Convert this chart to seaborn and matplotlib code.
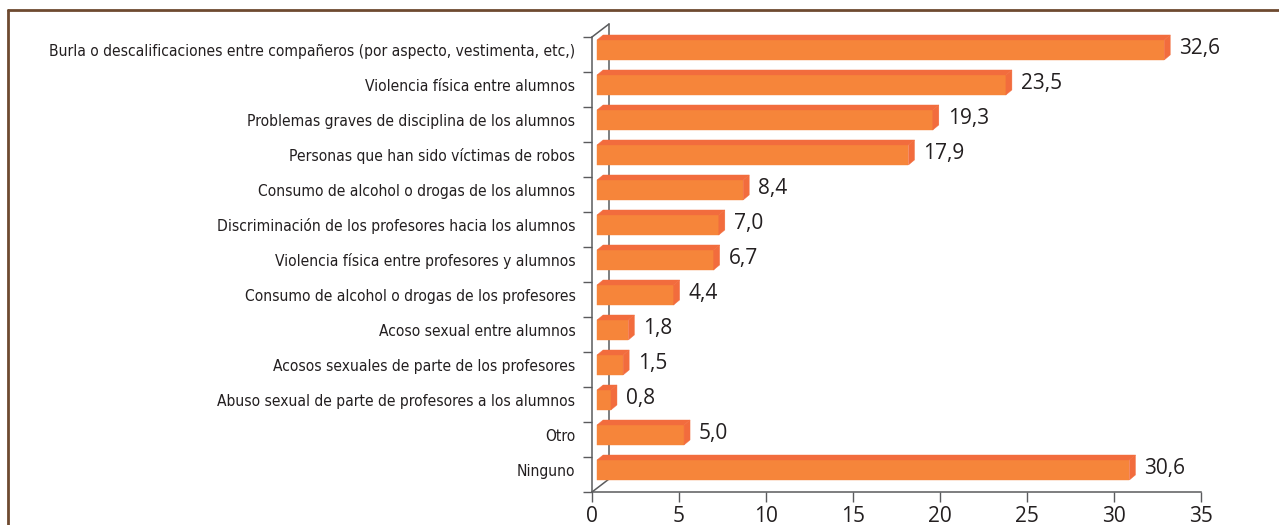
import numpy as np
import pandas as pd
import seaborn as sns
import matplotlib.pyplot as plt
from matplotlib.patches import Polygon
from matplotlib.lines import Line2D
from matplotlib.transforms import ScaledTranslation, IdentityTransform

categorias = [
    "Burla o descalificaciones entre compañeros (por aspecto, vestimenta, etc,)",
    "Violencia física entre alumnos",
    "Problemas graves de disciplina de los alumnos",
    "Personas que han sido víctimas de robos",
    "Consumo de alcohol o drogas de los alumnos",
    "Discriminación de los profesores hacia los alumnos",
    "Violencia física entre profesores y alumnos",
    "Consumo de alcohol o drogas de los profesores",
    "Acoso sexual entre alumnos",
    "Acosos sexuales de parte de los profesores",
    "Abuso sexual de parte de profesores a los alumnos",
    "Otro",
    "Ninguno",
]
valores = [32.6, 23.5, 19.3, 17.9, 8.4, 7.0, 6.7, 4.4, 1.8, 1.5, 0.8, 5.0, 30.6]
ticks_x = [0, 5, 10, 15, 20, 25, 30, 35]

naranja = '#F6853A'
naranja_osc = '#F26C3D'
gris = '#5A5B5D'
texto = '#231F20'
marco = '#6E4A30'

# efecto "3D" (pixeles)
DX_BARRA, DY_BARRA = 5, 4.5
DX_PROF, DY_PROF = 6, 5
DX_FONDO, DY_FONDO = 17, 13

sns.set_style('white')
plt.rcParams['font.family'] = ['Open Sans', 'DejaVu Sans']

fig = plt.figure(figsize=(12.79, 5.25), dpi=100)
ax = fig.add_axes([0.4629, 0.0629, 0.4761, 0.8667])

df = pd.DataFrame({'categoria': categorias, 'valor': valores})
sns.barplot(data=df, x='valor', y='categoria', orient='h', color=naranja,
            width=0.57, saturation=1, ax=ax, zorder=3, edgecolor=naranja, linewidth=0.3)

n = len(categorias)
ax.set_xlim(0, 35)
ax.set_ylim(n - 0.5, -0.5)

# pared del fondo
p0 = ax.transAxes.transform((0, 0))
p1 = ax.transAxes.transform((0, 1))
for xs, ys in [
    ([p0[0] + DX_FONDO, p1[0] + DX_FONDO], [p0[1] + DY_FONDO, p1[1] + DY_FONDO]),
    ([p1[0], p1[0] + DX_FONDO], [p1[1], p1[1] + DY_FONDO]),
    ([p0[0], p0[0] + DX_FONDO], [p0[1], p0[1] + DY_FONDO]),
]:
    ax.add_line(Line2D(xs, ys, transform=IdentityTransform(), color=gris,
                       lw=1.1, zorder=1, clip_on=False))

# barras desplazadas + caras superior y lateral
desplaz = ScaledTranslation(DX_BARRA / 100, DY_BARRA / 100, fig.dpi_scale_trans)
for p, v in zip(list(ax.patches), valores):
    p.set_transform(ax.transData + desplaz)
    p.set_clip_on(False)
    xa, ya = ax.transData.transform((p.get_x(), p.get_y()))
    xb, yb = ax.transData.transform((p.get_x() + p.get_width(), p.get_y() + p.get_height()))
    izq, der = min(xa, xb) + DX_BARRA, max(xa, xb) + DX_BARRA
    arr, aba = max(ya, yb) + DY_BARRA, min(ya, yb) + DY_BARRA
    sup = [(izq, arr), (der, arr), (der + DX_PROF, arr + DY_PROF), (izq + DX_PROF, arr + DY_PROF)]
    lat = [(der, aba), (der, arr), (der + DX_PROF, arr + DY_PROF), (der + DX_PROF, aba + DY_PROF)]
    for caras in (sup, lat):
        ax.add_patch(Polygon(caras, closed=True, transform=IdentityTransform(),
                             facecolor=naranja_osc, edgecolor=naranja_osc, lw=0.3,
                             zorder=3, clip_on=False))
    ax.text(der + DX_PROF + 9, (arr + aba) / 2 + 1, f"{v:.1f}".replace('.', ','),
            transform=IdentityTransform(), ha='left', va='center',
            fontsize=15, color=texto)

# ejes
px_cat = ax.bbox.height / n
ax.set_yticks(np.arange(-0.5, n), labels=[])
ax.set_yticks(np.arange(n) - DY_BARRA / px_cat, labels=categorias, minor=True)
ax.tick_params(axis='y', which='major', left=True, length=6.5, width=1, color=gris, direction='out')
ax.tick_params(axis='y', which='minor', left=True, length=0, pad=12, labelsize=11.2, labelcolor=texto)
for lbl in ax.get_yticklabels(minor=True):
    lbl.set_fontfamily('DejaVu Sans')
    lbl.set_fontstretch('condensed')
ax.set_xticks(ticks_x)
ax.tick_params(axis='x', bottom=True, length=7, width=1, color=gris, pad=3,
               labelsize=15, labelcolor=texto)
sns.despine(ax=ax, top=True, right=True)
for lado in ['left', 'bottom']:
    ax.spines[lado].set_color(gris)
    ax.spines[lado].set_linewidth(1.1)
ax.set_xlabel('')
ax.set_ylabel('')
ax.set_xlim(0, 35)
ax.set_ylim(n - 0.5, -0.5)

# marco
fig.add_artist(Line2D([8 / 1279, 8 / 1279], [0, 1 - 10 / 525], transform=fig.transFigure,
                      color=marco, lw=2))
fig.add_artist(Line2D([8 / 1279, 1], [1 - 10 / 525, 1 - 10 / 525], transform=fig.transFigure,
                      color=marco, lw=2))

fig.savefig('out.png', dpi=100)
